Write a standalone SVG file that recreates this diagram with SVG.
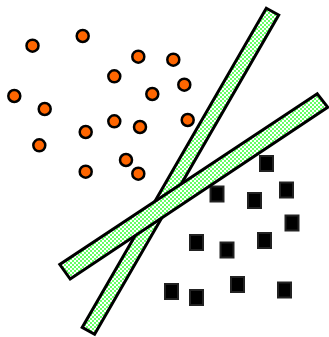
<svg xmlns="http://www.w3.org/2000/svg" width="329" height="337" viewBox="0 0 329 337">
<defs>
<pattern id="chk" width="4" height="4" patternUnits="userSpaceOnUse">
<rect width="4" height="4" fill="#ffffff"/>
<rect width="2" height="2" fill="#66ff66"/>
<rect x="2" y="2" width="2" height="2" fill="#66ff66"/>
</pattern>
</defs>
<style>
.dot{fill:#ff6600;stroke:#000;stroke-width:2.5}
.sq{fill:#000;stroke:#222;stroke-width:2}
.bar{fill:url(#chk);stroke:#000;stroke-width:3;stroke-linejoin:miter}
</style>
<rect width="329" height="337" fill="#fff"/>
<g id="dots">
<circle class="dot" cx="32.5" cy="45.7" r="6"/>
<circle class="dot" cx="82.7" cy="36" r="6"/>
<circle class="dot" cx="138.3" cy="56.7" r="6"/>
<circle class="dot" cx="173.3" cy="59.7" r="6"/>
<circle class="dot" cx="114.3" cy="76.3" r="6"/>
<circle class="dot" cx="184.3" cy="84.7" r="6"/>
<circle class="dot" cx="14.3" cy="96" r="6"/>
<circle class="dot" cx="152.3" cy="94" r="6"/>
<circle class="dot" cx="44.7" cy="109" r="6"/>
<circle class="dot" cx="114.3" cy="121.3" r="6"/>
<circle class="dot" cx="140" cy="127" r="6"/>
<circle class="dot" cx="187.7" cy="120" r="6"/>
<circle class="dot" cx="85.7" cy="132" r="6"/>
<circle class="dot" cx="39.3" cy="145.3" r="6"/>
<circle class="dot" cx="126" cy="160" r="6"/>
<circle class="dot" cx="138.3" cy="173.7" r="6"/>
<circle class="dot" cx="85.7" cy="171.7" r="6"/>
</g>
<g id="squares">
<rect class="sq" x="260" y="156" width="13" height="15"/>
<rect class="sq" x="210.5" y="186.5" width="13" height="15"/>
<rect class="sq" x="248" y="193" width="13" height="15"/>
<rect class="sq" x="280" y="182.5" width="13" height="15"/>
<rect class="sq" x="285.5" y="215.5" width="13" height="15"/>
<rect class="sq" x="190" y="235" width="13" height="15"/>
<rect class="sq" x="220.5" y="242.5" width="13" height="15"/>
<rect class="sq" x="258" y="233" width="13" height="15"/>
<rect class="sq" x="165" y="284" width="13" height="15"/>
<rect class="sq" x="190" y="290" width="13" height="15"/>
<rect class="sq" x="231" y="277" width="13" height="15"/>
<rect class="sq" x="278" y="282.5" width="13" height="15"/>
</g>
<g id="bars">
<polygon id="bar1" class="bar" points="266.3,8.2 278.7,15 94.6,334.2 82.2,327.4"/>
<polygon id="bar2" class="bar" points="317.3,93.8 327.7,107.2 70.2,279 59.8,264.5"/>
</g>
</svg>
